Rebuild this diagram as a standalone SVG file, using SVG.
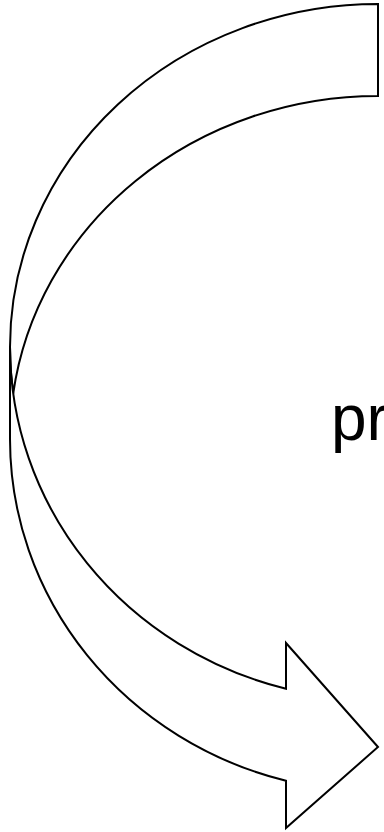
<svg xmlns="http://www.w3.org/2000/svg" width="384" height="832" viewBox="0 0 384 832">
  <style>
    .shape { fill: #ffffff; stroke: #000000; stroke-width: 2; stroke-linejoin: miter; }
    .label { font-family: "Liberation Sans", Arial, sans-serif; font-size: 64px; fill: #000000; }
  </style>
  <rect width="384" height="832" fill="#ffffff"/>
  <g id="curved-arrow">
    <path id="arrow-back" class="shape" d="M 378,4 A 368 343 0 0 0 10,347 A 368 353 0 0 0 13.2,393.7 A 368 343 0 0 1 378,96 Z"/>
    <path id="arrow-front" class="shape" d="M 10,347 A 368 353 0 0 0 286,688.8 L 286,643 L 378,747 L 286,828 L 286,780.8 A 368 353 0 0 1 10,439 Z"/>
  </g>
  <g id="connectors"></g>
  <g id="label-node">
    <text class="label" x="331" y="440">pr</text>
  </g>
</svg>
